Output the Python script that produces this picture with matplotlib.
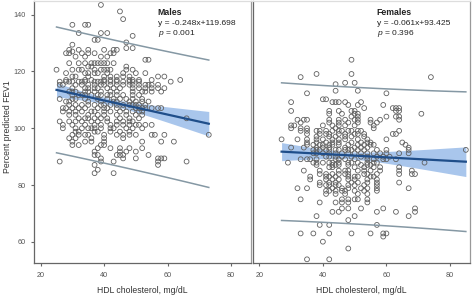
import numpy as np
import matplotlib
matplotlib.use("Agg")
import matplotlib.pyplot as plt

plt.rcParams['font.family'] = ['Liberation Sans', 'DejaVu Sans']
plt.rcParams['mathtext.fontset'] = 'custom'
plt.rcParams['mathtext.rm'] = 'Liberation Sans'
plt.rcParams['mathtext.it'] = 'Liberation Sans:italic'

# males: HDL cholesterol (mg/dL) and percent predicted FEV1, read row by row
male_hdl = [39, 45, 46, 30, 34, 35, 32, 39, 41, 49, 37, 38, 47, 30, 47, 49,
            29, 32, 35, 40, 43, 44, 30, 28, 29, 33, 35, 37, 42, 43, 31, 34, 39, 41, 53, 54,
            29, 32, 34, 36, 37, 38, 39, 40, 41, 43, 35, 36, 47,
            25, 30, 32, 33, 37, 39, 40, 41, 42, 47, 49,
            28, 34, 35, 37, 38, 41, 46, 50, 53,
            30, 31, 35, 40, 42, 44, 46, 48, 57, 59,
            28, 34, 36, 40, 42, 44, 48, 49, 51, 55, 64,
            26, 28, 29, 30, 32, 33, 34, 37, 38, 39, 40, 42, 44, 46, 48, 49, 51, 61,
            26, 27, 31, 33, 35, 37, 39, 40, 42, 44, 46, 48, 49, 51, 53, 54, 55, 57,
            30, 34, 35, 37, 38, 41, 43, 45, 49, 51, 53, 55, 57, 59,
            29, 30, 31, 34, 35, 37, 39, 42, 44, 49, 52, 53, 55, 58,
            30, 32, 33, 34, 36, 38, 39, 41, 42, 44, 46, 49, 51,
            26, 30, 31, 34, 38, 41, 43, 45, 47, 49, 52,
            28, 29, 35, 39, 43, 44, 48, 50, 52, 54,
            29, 31, 33, 35, 37, 39, 40, 42, 44, 46, 48, 49, 50, 51, 53,
            27, 28, 30, 32, 34, 38, 40, 41, 44, 46, 50, 51, 52, 53, 55, 57, 58,
            27, 29, 31, 33, 36, 37, 40, 42, 45, 47, 49, 51, 52,
            29, 31, 35, 38, 40, 44, 47, 50, 52,
            32, 34, 35, 37, 39, 41, 45, 48, 51, 66,
            26, 29, 31, 33, 36, 38, 41, 44, 46, 48, 49,
            27, 30, 34, 37, 39, 42, 44, 46, 48, 50, 51, 53, 55,
            27, 31, 33, 35, 36, 37, 39, 42, 43, 47, 49, 52,
            31, 32, 37, 38, 42, 45, 48,
            30, 32, 34, 35, 40, 44, 46, 48, 50, 55, 56, 59, 73,
            29, 31, 36, 40, 46,
            30, 34, 36, 40, 52, 58, 62,
            30, 32, 39, 40,
            38, 42, 45, 48, 52,
            37, 45, 47, 50,
            37, 38, 44, 45, 46, 54,
            39, 46, 50, 57, 58, 59,
            26, 39, 43, 57, 66,
            37, 57,
            38, 37, 43]
male_fev = [143.4, 141.1, 138.4, 136.4, 136.4, 136.4, 133.5, 133.5, 133.5, 132.5, 131.1, 131.1,
            130.2, 129.4, 128.2, 128.2,
            127.6, 127.6, 127.6, 127.6, 127.6, 127.6, 127.0,
            126.4, 126.4, 126.4, 126.4, 126.4, 126.4, 126.4, 125.2, 125.2, 125.2, 125.2, 124.1, 124.1,
            122.9, 122.9, 122.9, 122.9, 122.9, 122.9, 122.9, 122.9, 122.9, 122.9, 121.7, 121.7, 121.7,
            120.6, 120.6, 120.6, 120.6, 120.6, 120.6, 120.6, 120.6, 120.6, 120.6, 120.6,
            119.4, 119.4, 119.4, 119.4, 119.4, 119.4, 119.4, 119.4, 119.4,
            118.2, 118.2, 118.2, 118.2, 118.2, 118.2, 118.2, 118.2, 118.2, 118.2,
            117.0, 117.0, 117.0, 117.0, 117.0, 117.0, 117.0, 117.0, 117.0, 117.0, 117.0,
            116.4, 116.4, 116.4, 116.4, 116.4, 116.4, 116.4, 116.4, 116.4, 116.4, 116.4, 116.4, 116.4,
            116.4, 116.4, 116.4, 116.4, 116.4,
            115.3, 115.3, 115.3, 115.3, 115.3, 115.3, 115.3, 115.3, 115.3, 115.3, 115.3, 115.3, 115.3,
            115.3, 115.3, 115.3, 115.3, 115.3,
            114.1, 114.1, 114.1, 114.1, 114.1, 114.1, 114.1, 114.1, 114.1, 114.1, 114.1, 114.1, 114.1, 114.1,
            112.9, 112.9, 112.9, 112.9, 112.9, 112.9, 112.9, 112.9, 112.9, 112.9, 112.9, 112.9, 112.9, 112.9,
            111.7, 111.7, 111.7, 111.7, 111.7, 111.7, 111.7, 111.7, 111.7, 111.7, 111.7, 111.7, 111.7,
            110.3, 110.3, 110.3, 110.3, 110.3, 110.3, 110.3, 110.3, 110.3, 110.3, 110.3,
            109.4, 109.4, 109.4, 109.4, 109.4, 109.4, 109.4, 109.4, 109.4, 109.4,
            108.2, 108.2, 108.2, 108.2, 108.2, 108.2, 108.2, 108.2, 108.2, 108.2, 108.2, 108.2, 108.2,
            108.2, 108.2,
            107.1, 107.1, 107.1, 107.1, 107.1, 107.1, 107.1, 107.1, 107.1, 107.1, 107.1, 107.1, 107.1,
            107.1, 107.1, 107.1, 107.1,
            105.9, 105.9, 105.9, 105.9, 105.9, 105.9, 105.9, 105.9, 105.9, 105.9, 105.9, 105.9, 105.9,
            104.7, 104.7, 104.7, 104.7, 104.7, 104.7, 104.7, 104.7, 104.7,
            103.5, 103.5, 103.5, 103.5, 103.5, 103.5, 103.5, 103.5, 103.5, 103.5,
            102.4, 102.4, 102.4, 102.4, 102.4, 102.4, 102.4, 102.4, 102.4, 102.4, 102.4,
            101.2, 101.2, 101.2, 101.2, 101.2, 101.2, 101.2, 101.2, 101.2, 101.2, 101.2, 101.2, 101.2,
            100.0, 100.0, 100.0, 100.0, 100.0, 100.0, 100.0, 100.0, 100.0, 100.0, 100.0, 100.0,
            98.8, 98.8, 98.8, 98.8, 98.8, 98.8, 98.8,
            97.7, 97.7, 97.7, 97.7, 97.7, 97.7, 97.7, 97.7, 97.7, 97.7, 97.7, 97.7, 97.7,
            96.5, 96.5, 96.5, 96.5, 96.5,
            95.3, 95.3, 95.3, 95.3, 95.3, 95.3, 95.3,
            94.1, 94.1, 94.1, 94.1,
            93.0, 93.0, 93.0, 93.0, 93.0,
            91.8, 91.8, 91.8, 91.8,
            90.6, 90.6, 90.6, 90.6, 90.6, 90.6,
            89.4, 89.4, 89.4, 89.4, 89.4, 89.4,
            88.3, 88.3, 88.3, 88.3, 88.3,
            87.1, 87.1,
            85.4, 84.2, 84.2]

# females
female_hdl = [49, 38, 49, 33, 74, 47, 50, 44, 44, 51, 35, 60, 40, 41,
              30, 43, 44, 45, 47, 52, 48, 51, 59, 53, 62, 63, 64,
              30, 42, 45, 49, 50, 63, 64, 42, 46, 50, 51, 71, 49, 51, 60, 63, 64,
              32, 34, 35, 42, 45, 47, 50, 51, 55, 58, 64,
              33, 42, 45, 48, 51, 55, 57,
              30, 31, 40, 43, 45, 47, 50, 56,
              30, 33, 35, 44, 56,
              33, 35, 38, 39, 41, 43, 45, 46, 48, 49, 51, 52, 64,
              35, 39, 41, 42, 45, 47, 50, 51, 53, 62, 63,
              38, 42, 44, 47, 49, 53,
              27, 32, 35, 38, 40, 43, 45, 47, 51, 54, 60,
              35, 38, 41, 43, 45, 49, 52, 54, 55, 65,
              35, 37, 39, 40, 42, 43, 45, 48, 51, 53, 55, 56, 66,
              30, 34, 38, 40, 42, 47, 50, 52, 54, 67,
              37, 38, 39, 41, 42, 44, 45, 47, 48, 49, 51, 53, 57, 60, 67, 85,
              37, 38, 40, 42, 44, 46, 48, 50, 52, 54, 56, 58, 60, 64, 67,
              41, 42, 44, 46, 49, 52, 54, 57, 59, 61,
              33, 35, 36, 38, 44, 45, 47, 50, 54, 56, 59, 60, 63,
              29, 37, 38, 40, 42, 43, 45, 48, 49, 51, 54, 56, 57, 72,
              38, 43, 44, 45, 48, 52, 54, 55,
              42, 43, 50, 53, 56, 58, 64,
              34, 39, 45, 47, 48, 51, 53, 55, 58, 64, 68,
              39, 41, 43, 45, 47, 48, 53, 54, 57, 64, 68, 69,
              36, 41, 42, 44, 48, 50, 51, 55, 56,
              36, 41, 43, 45, 48, 50, 54, 57,
              39, 42, 44, 49, 51, 54, 57, 64,
              39, 41, 42, 44, 45, 48, 50, 53, 57,
              32, 35, 43, 46, 48, 52, 54, 57, 67,
              41, 42, 44, 46, 47, 50, 53, 57,
              41, 44, 47, 51, 54,
              33, 46, 48, 50, 51, 54,
              39, 44, 46, 48, 54,
              46, 48, 52, 59, 69,
              43, 45, 57, 63, 69,
              38, 50, 67, 48, 39, 42, 57,
              33, 37, 42, 49, 55, 59, 60,
              59, 40, 48, 35, 42]
female_fev = [124.1, 119.1, 119.1, 118.0, 118.0, 116.0, 116.0, 115.5, 113.2, 113.2, 112.3, 112.3,
              110.2, 110.2,
              109.2, 109.2, 109.2, 109.2, 109.2, 109.2, 108.2, 108.2, 108.2, 107.1, 107.1, 107.1, 107.1,
              106.1, 106.1, 106.1, 106.1, 106.1, 106.1, 106.1, 105.1, 105.1, 105.1, 105.1, 105.1,
              104.1, 104.1, 104.1, 104.1, 104.1,
              103.0, 103.0, 103.0, 103.0, 103.0, 103.0, 103.0, 103.0, 103.0, 103.0, 103.0,
              102.0, 102.0, 102.0, 102.0, 102.0, 102.0, 102.0,
              101.0, 101.0, 101.0, 101.0, 101.0, 101.0, 101.0, 101.0,
              100.0, 100.0, 100.0, 100.0, 100.0,
              99.1, 99.1, 99.1, 99.1, 99.1, 99.1, 99.1, 99.1, 99.1, 99.1, 99.1, 99.1, 99.1,
              98.0, 98.0, 98.0, 98.0, 98.0, 98.0, 98.0, 98.0, 98.0, 98.0, 98.0,
              97.1, 97.1, 97.1, 97.1, 97.1, 97.1,
              96.1, 96.1, 96.1, 96.1, 96.1, 96.1, 96.1, 96.1, 96.1, 96.1, 96.1,
              95.0, 95.0, 95.0, 95.0, 95.0, 95.0, 95.0, 95.0, 95.0, 95.0,
              94.2, 94.2, 94.2, 94.2, 94.2, 94.2, 94.2, 94.2, 94.2, 94.2, 94.2, 94.2, 94.2,
              93.2, 93.2, 93.2, 93.2, 93.2, 93.2, 93.2, 93.2, 93.2, 93.2,
              92.4, 92.4, 92.4, 92.4, 92.4, 92.4, 92.4, 92.4, 92.4, 92.4, 92.4, 92.4, 92.4, 92.4,
              92.4, 92.4,
              91.2, 91.2, 91.2, 91.2, 91.2, 91.2, 91.2, 91.2, 91.2, 91.2, 91.2, 91.2, 91.2, 91.2, 91.2,
              90.0, 90.0, 90.0, 90.0, 90.0, 90.0, 90.0, 90.0, 90.0, 90.0,
              89.1, 89.1, 89.1, 89.1, 89.1, 89.1, 89.1, 89.1, 89.1, 89.1, 89.1, 89.1, 89.1,
              87.9, 87.9, 87.9, 87.9, 87.9, 87.9, 87.9, 87.9, 87.9, 87.9, 87.9, 87.9, 87.9, 87.9,
              87.1, 87.1, 87.1, 87.1, 87.1, 87.1, 87.1, 87.1,
              86.3, 86.3, 86.3, 86.3, 86.3, 86.3, 86.3,
              85.1, 85.1, 85.1, 85.1, 85.1, 85.1, 85.1, 85.1, 85.1, 85.1, 85.1,
              83.9, 83.9, 83.9, 83.9, 83.9, 83.9, 83.9, 83.9, 83.9, 83.9, 83.9, 83.9,
              83.0, 83.0, 83.0, 83.0, 83.0, 83.0, 83.0, 83.0, 83.0,
              82.0, 82.0, 82.0, 82.0, 82.0, 82.0, 82.0, 82.0,
              80.9, 80.9, 80.9, 80.9, 80.9, 80.9, 80.9, 80.9,
              80.0, 80.0, 80.0, 80.0, 80.0, 80.0, 80.0, 80.0, 80.0,
              78.9, 78.9, 78.9, 78.9, 78.9, 78.9, 78.9, 78.9, 78.9,
              78.0, 78.0, 78.0, 78.0, 78.0, 78.0, 78.0, 78.0,
              76.9, 76.9, 76.9, 76.9, 76.9,
              75.0, 75.0, 75.0, 75.0, 75.0, 75.0,
              73.9, 73.9, 73.9, 73.9, 73.9,
              71.8, 71.8, 71.8, 71.8, 71.8,
              70.6, 70.6, 70.6, 70.6, 70.6,
              69.1, 69.1, 69.1, 67.7, 66.0, 66.0, 66.0,
              63.0, 63.0, 63.0, 63.0, 63.0, 63.0, 63.0,
              61.9, 60.1, 57.7, 53.9, 53.9]

# fitted lines as printed on the chart
male_slope, male_icept, male_p = -0.248, 119.698, "0.001"
female_slope, female_icept, female_p = -0.061, 93.425, "0.396"

x_ticks = [20, 40, 60, 80]
y_ticks = [60, 80, 100, 120, 140]

PT_COLOR = '#606060'
FIT_COLOR = '#1f4e8a'
BAND_COLOR = '#a9c6ec'
PI_COLOR = '#8598a4'


def draw_panel(ax, hdl, fev, slope, icept, title, pval):
    x = np.array(hdl, dtype=float)
    y = np.array(fev, dtype=float)
    n = len(x)
    xbar = x.mean()
    sxx = ((x - xbar) ** 2).sum()
    resid = y - (icept + slope * x)
    s = np.sqrt((resid ** 2).sum() / (n - 2))
    t = 1.97
    xs = np.linspace(x.min(), x.max(), 100)
    fit = icept + slope * xs
    ci = t * s * np.sqrt(1.0 / n + (xs - xbar) ** 2 / sxx)
    pi = t * s * np.sqrt(1 + 1.0 / n + (xs - xbar) ** 2 / sxx)

    ax.fill_between(xs, fit - ci, fit + ci, color=BAND_COLOR, lw=0, zorder=1)
    ax.scatter(x, y, s=12, facecolors='none', edgecolors=PT_COLOR, linewidths=0.6, zorder=2)
    ax.plot(xs, fit, color=FIT_COLOR, lw=1.6, zorder=3)
    ax.plot(xs, fit + pi, color=PI_COLOR, lw=1.1, zorder=3)
    ax.plot(xs, fit - pi, color=PI_COLOR, lw=1.1, zorder=3)

    sign = '-' if slope < 0 else ''
    ax.text(0.57, 0.958, title, transform=ax.transAxes, fontsize=6.3,
            fontweight='bold', va='center', ha='left', color='#222222')
    ax.text(0.57, 0.916, f"y = {sign}{abs(slope):.3f}x+{icept:.3f}", transform=ax.transAxes,
            fontsize=6.1, va='center', ha='left', color='#222222')
    ax.text(0.57, 0.879, r"$p$ = " + pval, transform=ax.transAxes,
            fontsize=6.1, va='center', ha='left', color='#222222')

    ax.set_xlim(18.0, 86.3)
    ax.set_ylim(52.5, 144.6)
    ax.set_xticks(x_ticks)
    ax.set_xlabel('HDL cholesterol, mg/dL', fontsize=6.2, color='#333333', va='center')
    ax.xaxis.set_label_coords(0.5, -0.105)
    ax.tick_params(axis='both', direction='out', length=2.5, width=0.8, color='#666666',
                   labelsize=5.2, labelcolor='#555555', pad=4)
    ax.spines['left'].set_color('#666666')
    ax.spines['bottom'].set_color('#666666')
    ax.spines['right'].set_color('#999999')
    ax.spines['top'].set_color('#dddddd')
    for sp in ax.spines.values():
        sp.set_linewidth(0.9)


fig = plt.figure(figsize=(4.72, 2.97), dpi=100)
ax1 = fig.add_axes([0.0727, 0.1135, 0.459, 0.8815])
ax2 = fig.add_axes([0.536, 0.1135, 0.4597, 0.8815])

draw_panel(ax1, male_hdl, male_fev, male_slope, male_icept, 'Males', male_p)
draw_panel(ax2, female_hdl, female_fev, female_slope, female_icept, 'Females', female_p)

ax1.set_yticks(y_ticks)
ax1.set_ylabel('Percent predicted FEV1', fontsize=6.2, color='#333333', va='center')
ax1.yaxis.set_label_coords(-0.126, 0.52)
ax2.set_yticks([])

fig.savefig('out.png', dpi=100)
